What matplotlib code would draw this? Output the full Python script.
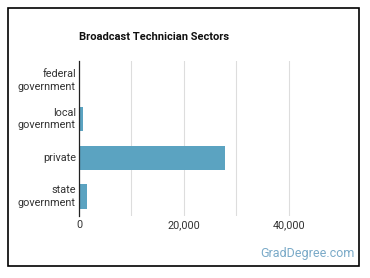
import matplotlib
matplotlib.use("Agg")
import matplotlib.pyplot as plt
from matplotlib.patches import Rectangle

categories = ["federal\ngovernment", "local\ngovernment", "private", "state\ngovernment"]
values = [100, 800, 27800, 1500]
xticks = [0, 20000, 40000]
xticklabels = ["0", "20,000", "40,000"]
title = "Broadcast Technician Sectors"

fig = plt.figure(figsize=(3.70, 2.78), dpi=100)
fig.patches.append(Rectangle((8/370, 1-266/278), 351/370, 258/278, transform=fig.transFigure,
                             fill=False, edgecolor="black", linewidth=1.2))
ax = fig.add_axes([79/370, 1-216/278, 262/370, 155/278])
y = list(range(len(categories)))
ax.barh(y, values, height=0.63, color="#5ba3c1", zorder=3)
ax.set_ylim(len(categories)-0.5, -0.5)
ax.set_xlim(0, 50000)
ax.set_yticks(y)
ax.set_yticklabels([])
for yi, cat in zip(y, categories):
    ax.text(-0.012, yi, cat, transform=ax.get_yaxis_transform(), ha="right", va="center",
            multialignment="right", fontsize=7.8, color="#333333", family="Roboto",
            linespacing=1.3)
ax.set_xticks(xticks)
ax.set_xticklabels(xticklabels, fontsize=7.8, color="#333333", family="Roboto")
ax.set_xticks([10000, 30000], minor=True)
ax.grid(axis="x", which="both", color="#dddddd", linewidth=0.8, zorder=0)
ax.tick_params(axis="both", which="both", length=0, pad=3)
for s in ["top", "right", "bottom"]:
    ax.spines[s].set_visible(False)
ax.spines["left"].set_color("#222222")
ax.spines["left"].set_linewidth(0.9)
ax.spines["left"].set_zorder(4)
fig.text(79/370, 1-37/278, title, fontsize=8, fontweight="bold", family="Roboto",
         color="#111111", va="center", ha="left")
fig.text(355/370, 1-254/278, "GradDegree.com", fontsize=9, family="Roboto",
         color="#7aaac8", va="center", ha="right")
fig.savefig("out.png", dpi=100)
